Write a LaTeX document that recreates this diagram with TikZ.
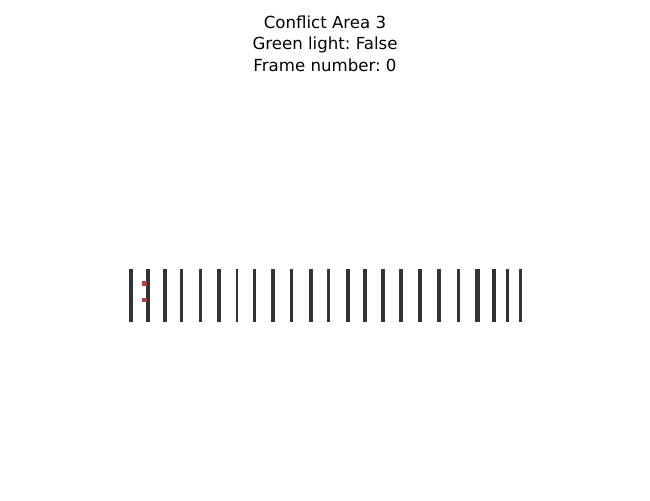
\documentclass[tikz,border=0pt]{standalone}
\usepackage{fontspec}
\setmainfont{DejaVu Sans}
\usepackage{xcolor}
\usepackage{tikz}
\usetikzlibrary{positioning}
\definecolor{bargray}{HTML}{333333}
\definecolor{carred}{HTML}{B5403D}
\frenchspacing

\begin{document}
\begin{tikzpicture}[
        x=0.01in, y=-0.01in,
        title/.style={align=center, font=\fontsize{12}{15.5}\selectfont, inner sep=0pt},
        bar/.style={fill=bargray},
        car/.style={fill=carred, draw=none}
    ]
        \useasboundingbox[fill=white] (0,0) rectangle (650,500);
        \node[title] (T) at (325,43.5) {Conflict Area 3\\Green light: False\\Frame number: 0};
        \foreach \x/\w in {130.7/4, 148.3/3.7, 165/3.7, 181/3, 200.3/3.4, 218.7/4, 237/2.8, 254.3/3,
                273.3/4, 291.3/3.4, 311/4, 328.7/3, 348/4, 365/3.7, 383.3/4.3, 401/3.4,
                420/3.7, 439/4, 458.7/3, 477.3/5, 493.7/4, 507.3/3.4, 520.3/3}
            \fill[bar] (\x-\w/2,269) rectangle (\x+\w/2,321.5);
        \fill[car] (142,281) rectangle (146.5,285.7);
        \fill[car] (142,297.5) rectangle (146.5,302);
    \end{tikzpicture}
\end{document}
